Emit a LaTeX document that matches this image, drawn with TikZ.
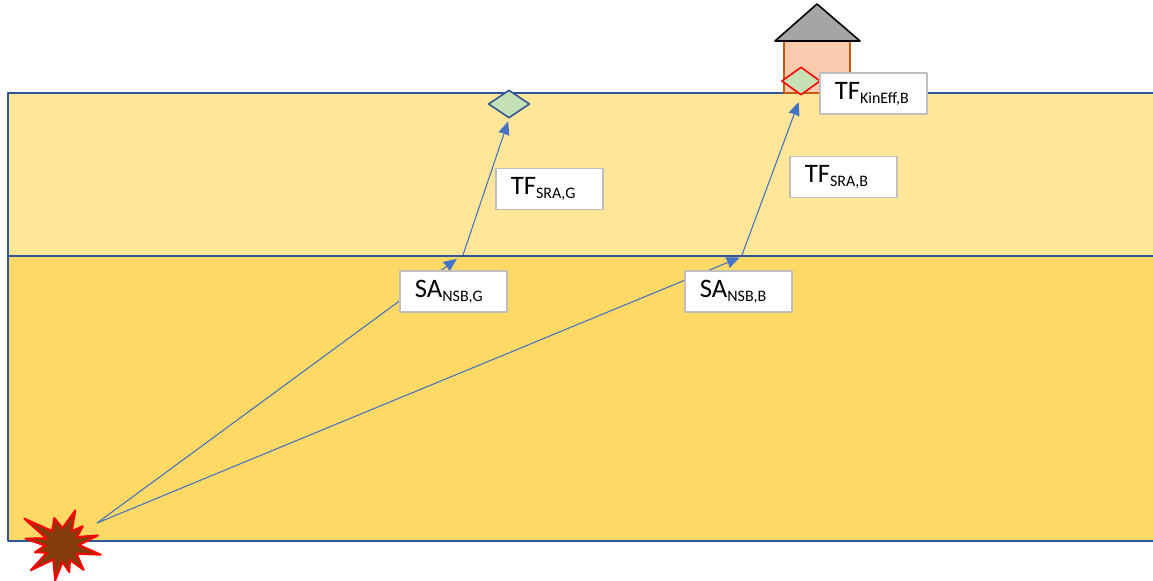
\documentclass[tikz,border=0pt]{standalone}
\usepackage{fontspec}
\setmainfont{Carlito}
\usetikzlibrary{shapes.geometric,arrows.meta}
\definecolor{topsoil}{HTML}{FFE699}
\definecolor{bedrock}{HTML}{FFD966}
\definecolor{layerblue}{HTML}{2F5597}
\definecolor{rayblue}{HTML}{4472C4}
\definecolor{boxgray}{HTML}{BFBFBF}
\definecolor{sitegreen}{HTML}{C5E0B4}
\definecolor{wallpink}{HTML}{F8CBAD}
\definecolor{wallbrown}{HTML}{C55A11}
\definecolor{roofgray}{HTML}{A5A5A5}
\definecolor{burstbrown}{HTML}{843C0C}
\newcommand\lowsub[1]{\raisebox{-3pt}{\fontsize{12}{13}\selectfont #1}}
\begin{document}
\begin{tikzpicture}[x=0.75pt,y=-0.75pt,line join=round,>={Stealth[length=10pt,width=8.5pt,inset=0.5pt]},
		layer/.style={draw=layerblue,line width=1.5pt},
		site/.style={diamond,fill=sitegreen,line width=1.2pt,minimum width=31pt,minimum height=21pt,inner sep=0pt},
		ray/.style={->,draw=rayblue,fill=rayblue,line width=0.8pt,shorten >=1pt},
		lbl/.style={draw=boxgray,line width=1.2pt,fill=white,minimum height=30.75pt,text width=58pt,inner xsep=11pt,align=left,font=\fontsize{20}{22}\selectfont}]
	\useasboundingbox (0,0) rectangle (1153,581);
	% soil layers
	\draw[layer,fill=topsoil] (8,93) rectangle (1160,256);
	\draw[layer,fill=bedrock] (8,256) rectangle (1160,541);
	% building
	\draw[wallbrown,fill=wallpink,line width=1.2pt] (784,93) rectangle (850,41);
	\draw[black,fill=roofgray,line width=1.2pt] (775,41) -- (817,4) -- (860,41) -- cycle;
	% sites
	\node[site,draw=layerblue] (dG) at (509,104) {};
	\node[site,draw=red,minimum width=29pt] (dB) at (801,81) {};
	% source
	\begin{scope}[shift={(62,545)}]
		\draw[red,fill=burstbrown,line width=1.5pt] (14:40)
			\foreach \a/\r in {31/17,49/33,62/17,75/28,88/17,101/36,121/17,141/40,153/17,165/28,178/17,190/37,203/17,215/46,235/17,254/28,272/17,291/37,305/17,318/28,332/17,345/37,360/17} {-- (\a:\r)} -- cycle;
	\end{scope}
	% rays
	\coordinate (src) at (97,523);
	\coordinate (hitG) at (458,258);
	\coordinate (hitB) at (741,257);
	\draw[ray] (src) -- (hitG);
	\draw[ray] (src) -- (hitB);
	\draw[ray,shorten >=2pt] (463,255) -- (dG.south);
	\draw[ray,shorten >=5pt] (742,255) -- (dB.south);
	% labels
	\node[lbl] (saG) at (453.5,291.5) {SA\lowsub{NSB,G}};
	\node[lbl] (saB) at (738.5,291.5) {SA\lowsub{NSB,B}};
	\node[lbl] (tfG) at (549.5,189) {TF\lowsub{SRA,G}};
	\node[lbl] (tfB) at (843.5,177) {TF\lowsub{SRA,B}};
	\node[lbl] (tfK) at (873.5,93.5) {TF\lowsub{KinEff,B}};
\end{tikzpicture}
\end{document}
